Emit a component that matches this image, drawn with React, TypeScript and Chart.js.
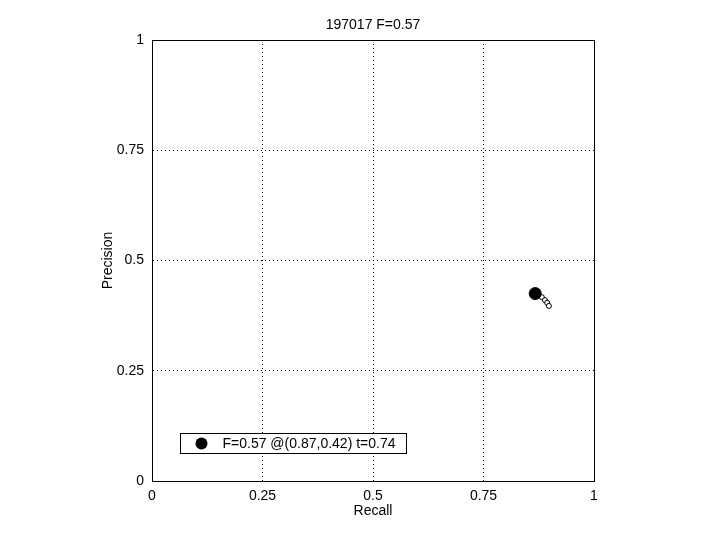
import React, { useEffect, useRef } from "react";
import { Chart, registerables } from "chart.js";

Chart.register(...registerables);

const chartTitle = "197017 F=0.57";
const xLabel = "Recall";
const yLabel = "Precision";
const tickValues = [0, 0.25, 0.5, 0.75, 1];
const tickLabels = ["0", "0.25", "0.5", "0.75", "1"];

const curveRecall = [0.867, 0.873, 0.882, 0.889, 0.894, 0.898];
const curvePrecision = [0.425, 0.422, 0.417, 0.41, 0.404, 0.397];

const bestRecall = [0.867];
const bestPrecision = [0.425];
const legendText = "F=0.57 @(0.87,0.42) t=0.74";

const FONT = "'Liberation Sans', Arial, Helvetica, sans-serif";

const framePlugin = {
  id: "frameAndLegend",
  afterDatasetsDraw(chart: any) {
    const { ctx, chartArea } = chart;
    const { left, top, right, bottom } = chartArea;
    ctx.save();
    ctx.strokeStyle = "#000";
    ctx.lineWidth = 1;
    ctx.setLineDash([]);
    ctx.strokeRect(left + 0.5, top + 0.5, right - left - 1 + 1, bottom - top - 1 + 1);
    // legend box
    const bx = left + 28.5;
    const by = bottom - 47.5;
    const bw = 226;
    const bh = 20;
    ctx.fillStyle = "#fff";
    ctx.fillRect(bx, by, bw, bh);
    ctx.strokeRect(bx, by, bw, bh);
    ctx.beginPath();
    ctx.arc(bx + 21, by + 10, 6, 0, Math.PI * 2);
    ctx.fillStyle = "#000";
    ctx.fill();
    ctx.font = "14px " + FONT;
    ctx.textBaseline = "middle";
    ctx.textAlign = "left";
    ctx.fillText(legendText, bx + 42, by + 10.5);
    ctx.restore();
  },
};

export default function App() {
  const ref = useRef<HTMLCanvasElement>(null);
  useEffect(() => {
    if (!ref.current) return;
    const chart = new Chart(ref.current, {
      type: "scatter",
      data: {
        datasets: [
          {
            label: legendText,
            data: bestRecall.map((r, i) => ({ x: r, y: bestPrecision[i] })),
            pointRadius: 6,
            pointBackgroundColor: "#000",
            pointBorderColor: "#000",
            showLine: false,
          },
          {
            label: "curve",
            data: curveRecall.map((r, i) => ({ x: r, y: curvePrecision[i] })),
            showLine: true,
            borderColor: "#000",
            borderWidth: 1,
            pointRadius: 2.5,
            pointBorderWidth: 1,
            pointBackgroundColor: "#fff",
            pointBorderColor: "#000",
          },
        ],
      },
      options: {
        responsive: false,
        animation: false,
        events: [],
        layout: { padding: { left: 0, right: 126, top: 0, bottom: 0 } },
        plugins: {
          legend: { display: false },
          tooltip: { enabled: false },
          title: {
            display: true,
            text: chartTitle,
            color: "#000",
            fullSize: false,
            font: { family: FONT, size: 14, weight: "normal" },
            padding: { top: 16.6, bottom: 6.6 },
          },
        },
        scales: {
          x: {
            type: "linear",
            min: 0,
            max: 1,
            afterBuildTicks: (s: any) => {
              s.ticks = tickValues.map((v) => ({ value: v }));
            },
            afterFit: (s: any) => {
              s.height = 59;
            },
            ticks: {
              color: "#000",
              padding: 7,
              font: { family: FONT, size: 14 },
              callback: (v: any) => tickLabels[tickValues.indexOf(Number(v))] ?? "",
              maxRotation: 0,
            },
            grid: { color: "#000", lineWidth: 1, drawTicks: false },
            border: { display: true, color: "#000", dash: [1, 3] },
            title: {
              display: true,
              text: xLabel,
              color: "#000",
              font: { family: FONT, size: 14 },
              padding: { top: 0, bottom: 20.6 },
            },
          },
          y: {
            type: "linear",
            min: 0,
            max: 1,
            afterBuildTicks: (s: any) => {
              s.ticks = tickValues.map((v) => ({ value: v }));
            },
            afterFit: (s: any) => {
              s.width = 152;
            },
            ticks: {
              color: "#000",
              padding: 8,
              font: { family: FONT, size: 14 },
              callback: (v: any) => tickLabels[tickValues.indexOf(Number(v))] ?? "",
            },
            grid: { color: "#000", lineWidth: 1, drawTicks: false },
            border: { display: true, color: "#000", dash: [1, 3] },
            title: {
              display: true,
              text: yLabel,
              color: "#000",
              font: { family: FONT, size: 14 },
              padding: { top: 99.3, bottom: 0 },
            },
          },
        },
      },
      plugins: [framePlugin],
    } as any);
    return () => chart.destroy();
  }, []);
  return (
    <div style={{ position: "absolute", left: 0, top: 0, width: 720, height: 540, background: "#fff" }}>
      <canvas ref={ref} width={720} height={540} />
    </div>
  );
}
